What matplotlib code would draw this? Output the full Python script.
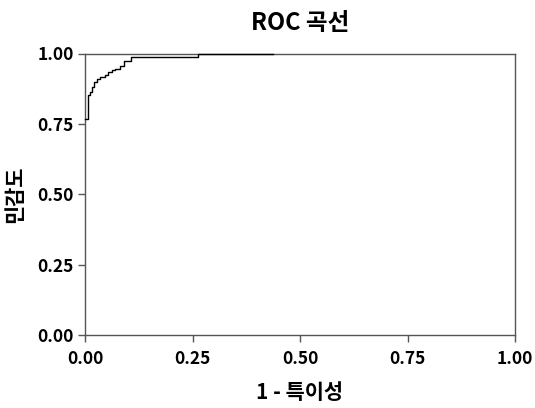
import matplotlib
matplotlib.use("Agg")
import matplotlib.pyplot as plt

plt.rcParams['font.family'] = ['Noto Sans CJK KR', 'DejaVu Sans']

# ROC curve vertices (false positive rate, true positive rate)
fpr = [0.0, 0.007, 0.012, 0.016, 0.022, 0.028, 0.036, 0.047, 0.054,
       0.062, 0.070, 0.081, 0.090, 0.108, 0.263, 0.437]
tpr = [0.768, 0.851, 0.863, 0.880, 0.897, 0.910, 0.916, 0.924, 0.933,
       0.940, 0.946, 0.957, 0.975, 0.988, 1.0, 1.0]

ticks = [0.0, 0.25, 0.5, 0.75, 1.0]
tick_labels = ["0.00", "0.25", "0.50", "0.75", "1.00"]

title = "ROC 곡선"
xlabel = "1 - 특이성"
ylabel = "민감도"

fig = plt.figure(figsize=(5.35, 4.08), dpi=100)
ax = fig.add_axes([85/535, 1-335/408, (515-85)/535, (335-53.5)/408])

ax.step(fpr, tpr, where='post', color='black', linewidth=1.0, clip_on=False, zorder=3)

ax.set_xlim(0, 1)
ax.set_ylim(0, 1)
ax.set_xticks(ticks)
ax.set_xticklabels(tick_labels)
ax.set_yticks(ticks)
ax.set_yticklabels(tick_labels)

for s in ax.spines.values():
    s.set_color('#555555')
    s.set_linewidth(1.0)

ax.tick_params(axis='both', direction='out', length=5, width=1.0, color='#555555',
               labelsize=12.5)
ax.tick_params(axis='x', pad=6)
ax.tick_params(axis='y', pad=3)
for lab in ax.get_xticklabels() + ax.get_yticklabels():
    lab.set_fontweight('bold')

ax.set_xlabel(xlabel, fontsize=15, fontweight='bold', labelpad=10)
ax.set_ylabel(ylabel, fontsize=15, fontweight='bold', labelpad=9)
fig.text((85+515)/2/535, 1 - 23/408, title, ha='center', va='center',
         fontsize=17, fontweight='bold')

fig.savefig("out.png", dpi=100)
